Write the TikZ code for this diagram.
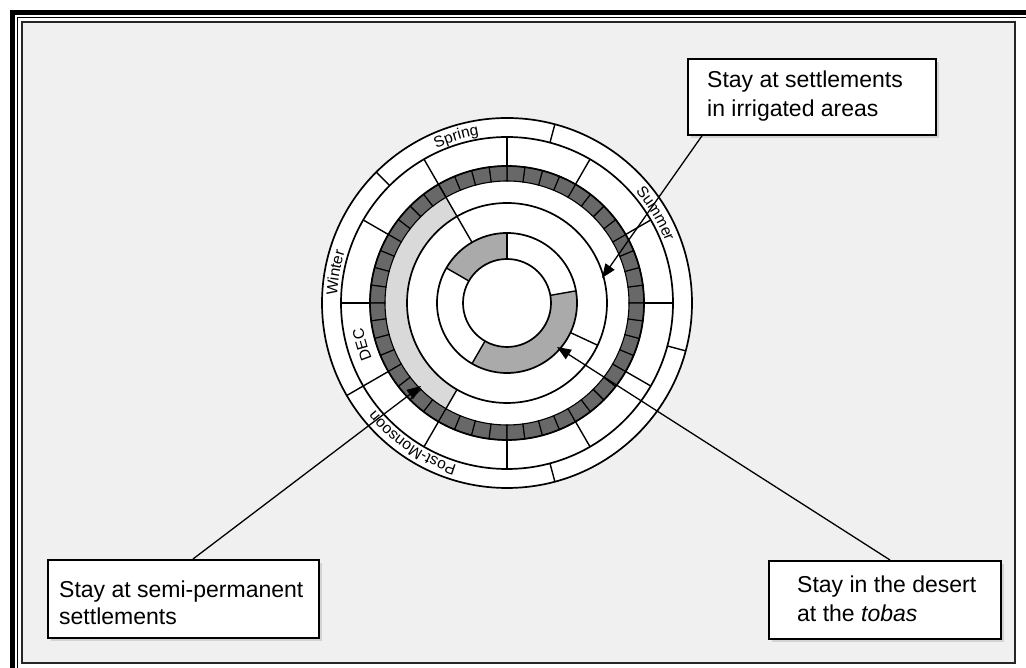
\documentclass[tikz,border=0pt]{standalone}
\usepackage{fontspec}
\setmainfont{Liberation Sans}
\usetikzlibrary{arrows.meta,decorations.text,shadows}
\definecolor{paper}{HTML}{F0F0F0}
\definecolor{weekgray}{HTML}{686868}
\definecolor{semigray}{HTML}{D9D9D9}
\definecolor{tobagray}{HTML}{AAAAAA}
\newcommand\lblfont{\fontsize{15.5}{15.5}\selectfont}
\begin{document}
\begin{tikzpicture}[x=1pt,y=1pt,
  ring/.style={draw=black,line width=1.7pt},
  spoke/.style={draw=black,line width=1.4pt},
  callout/.style={draw=black,line width=1.8pt,fill=white,inner sep=0pt,anchor=north west,
    drop shadow={opacity=0.25,shadow xshift=3pt,shadow yshift=-3pt}},
  boxtext/.style={font=\fontsize{23}{27}\selectfont,inner sep=0pt,anchor=base west},
  lead/.style={draw=black,line width=1.3pt,-{Triangle[length=14pt,width=11pt]}},
  arclabel/.style={decorate,decoration={text along path,text align=center,text={#1}}}]
\useasboundingbox (0,0) rectangle (1026,668);
\fill[white] (0,0) rectangle (1026,668);

% page frame: thick-thin double rule plus inner border
\fill[paper] (22,5) rectangle (1015,646);
\draw[line width=5pt] (12.5,0) -- (12.5,655.5) -- (1026,655.5);
\draw[line width=1pt] (17.2,0) -- (17.2,650.8) -- (1026,650.8);
\draw[line width=2.2pt,draw=black!85] (22.2,5) -- (22.2,645.8) -- (1015,645.8) -- (1015,5) -- cycle;

% annual wheel
\begin{scope}[shift={(507,365)}]
  \fill[white] (0,0) circle[radius=185];
  % semi-permanent settlements
  \fill[semigray] (120:122) arc[start angle=120,end angle=240,radius=122]
    -- (240:100) arc[start angle=240,end angle=120,radius=100] -- cycle;
  % stays at the tobas
  \fill[tobagray] (90:70) arc[start angle=90,end angle=150,radius=70]
    -- (150:44) arc[start angle=150,end angle=90,radius=44] -- cycle;
  \fill[tobagray] (240:70) arc[start angle=240,end angle=370,radius=70]
    -- (10:44) arc[start angle=370,end angle=240,radius=44] -- cycle;
  % weekly cells
  \foreach \i in {0,...,47}{
    \pgfmathsetmacro\a{\i*7.5}
    \pgfmathsetmacro\b{\i*7.5+7.5}
    \filldraw[fill=weekgray,draw=black,line width=1.1pt]
      (\a:122) arc[start angle=\a,end angle=\b,radius=122]
      -- (\b:137) arc[start angle=\b,end angle=\a,radius=137] -- cycle;
  }
  \foreach \r in {185,166,137,100,70,44}
    \draw[ring] (0,0) circle[radius=\r];
  % month divisions
  \foreach \a in {0,30,...,330}
    \draw[spoke] (\a:137) -- (\a:166);
  % season divisions
  \foreach \a in {75,135,210,285,345}
    \draw[spoke] (\a:166) -- (\a:185);
  \draw[spoke] (120:70) -- (120:137);
  \draw[spoke] (240:100) -- (240:122);
  \draw[spoke] (335:70) -- (335:100);
  \foreach \a in {90,150,240,10}
    \draw[spoke] (\a:44) -- (\a:70);
  % labels along the rim
  \path[arclabel={|\lblfont|Spring}] (135:170) arc[start angle=135,end angle=79,radius=170];
  \path[arclabel={|\lblfont|Summer}] (59:170) arc[start angle=59,end angle=3,radius=170];
  \path[arclabel={|\lblfont|Winter}] (198:170) arc[start angle=198,end angle=142,radius=170];
  \path[arclabel={|\lblfont|Post-Monsoon}] (278:170) arc[start angle=278,end angle=194,radius=170];
  \path[arclabel={|\lblfont|DEC}] (222:146) arc[start angle=222,end angle=170,radius=146];
\end{scope}

% callouts
\node[callout,minimum width=248pt,minimum height=76pt] (b1) at (687,610) {};
\node[boxtext] (t1a) at (707,580) {Stay at settlements};
\node[boxtext] (t1b) at (707,551) {in irrigated areas};

\node[callout,minimum width=271pt,minimum height=78pt] (b2) at (47,109) {};
\node[boxtext] (t2a) at (59,70) {Stay at semi-permanent};
\node[boxtext] (t2b) at (59,43) {settlements};

\node[callout,minimum width=232pt,minimum height=78pt] (b3) at (768,108) {};
\node[boxtext] (t3a) at (797,75) {Stay in the desert};
\node[boxtext] (t3b) at (797,46) {at the \textit{tobas}};

\coordinate (tip1) at (602,390);
\coordinate (tip2) at (421,282);
\coordinate (tip3) at (557,321);
\draw[lead] ([xshift=15pt]b1.south west) -- (tip1);
\draw[lead] ([xshift=146pt]b2.north west) -- (tip2);
\draw[lead] ([xshift=122pt]b3.north west) -- (tip3);
\end{tikzpicture}
\end{document}
